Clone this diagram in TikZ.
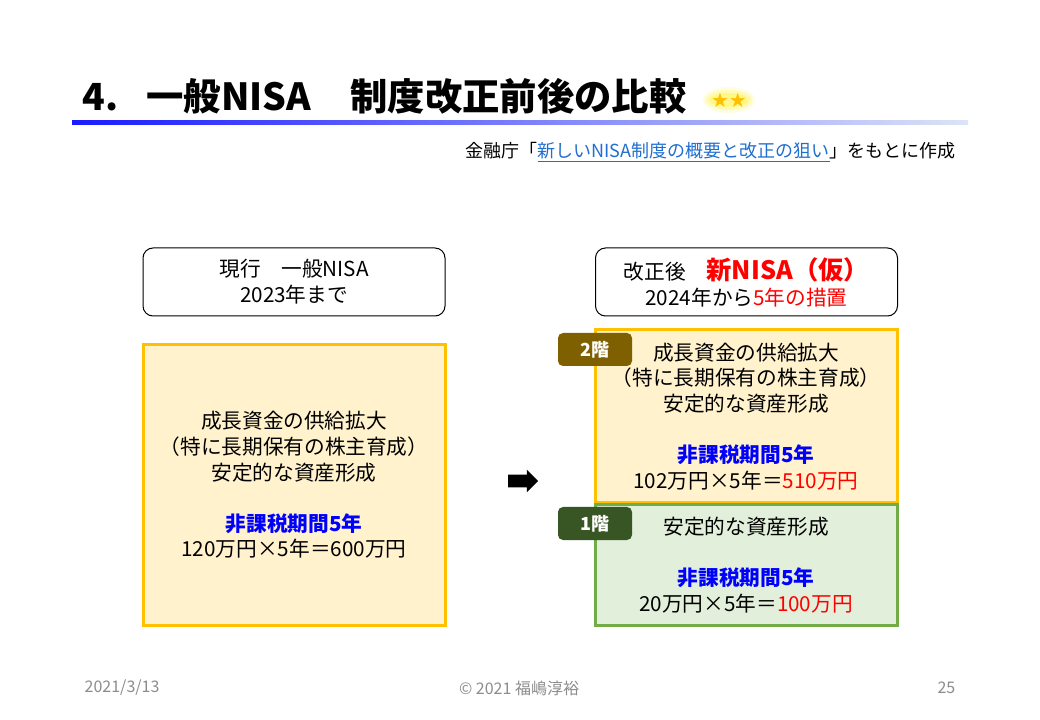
\documentclass[tikz,border=0pt]{standalone}
\usepackage{fontspec}
\setmainfont{Noto Sans CJK JP}
\newfontfamily\symbfont{DejaVu Sans}
\usetikzlibrary{shapes.arrows}

\definecolor{jauneclair}{HTML}{FFF2CC}
\definecolor{jaunebord}{HTML}{FFC000}
\definecolor{vertclair}{HTML}{E2EFDA}
\definecolor{vertbord}{HTML}{70AD47}
\definecolor{brun}{HTML}{7F6000}
\definecolor{vertfonce}{HTML}{375623}
\definecolor{lien}{HTML}{1F6FD0}
\definecolor{grispied}{HTML}{8C8C8C}
\definecolor{bleutitre}{HTML}{1A1AFF}
\definecolor{bleupale}{HTML}{DCE4F6}

\newcommand{\periode}{\textcolor{blue}{\bfseries 非課税期間5年}}

\begin{document}
\begin{tikzpicture}[x=0.75pt,y=-0.75pt,
  entete/.style={draw=black, line width=0.75pt, rounded corners=7.5pt, minimum width=226.5pt, minimum height=51pt, align=center, font=\fontsize{15.5}{19.5}\selectfont},
  cadre/.style={line width=2.25pt, minimum width=226.5pt, align=center, inner sep=0pt, font=\fontsize{15.5}{19.2}\selectfont},
  etage/.style={rounded corners=3.75pt, minimum width=55.5pt, minimum height=24.75pt, text=white, font=\fontsize{13.5}{16}\selectfont\bfseries},
  pied/.style={text=grispied, font=\fontsize{12}{14}\selectfont}]
%fond et cadre de la page
\fill[white] (0,0) rectangle (1040,720);
\useasboundingbox (0,0) rectangle (1040,720);

%titre
\node[anchor=west, font=\fontsize{28}{32}\selectfont\bfseries] (titre) at (78,96) {4.\hspace{0.75em}一般NISA\hspace{1.05em}制度改正前後の比較};
\foreach \r/\o in {13/0.12,10/0.18,7/0.25}
  \fill[yellow, opacity=\o] (729,100) ellipse ({\r+13} and \r);
\node[text=jaunebord, font=\symbfont\fontsize{15}{16}\selectfont, inner sep=0pt] (etoiles) at (729,100) {★★};
\shade[left color=bleutitre, right color=bleupale] (72,121) rectangle (968,125);

\node[anchor=east, font=\fontsize{13.5}{15}\selectfont] (source) at (960,152) {金融庁「\textcolor{lien}{\underline{新しいNISA制度の概要と改正の狙い}}」をもとに作成};

%en-tetes
\node[entete] (actuel) at (294,282) {現行　一般NISA\\2023年まで};
\node[entete] (reforme) at (746.5,282) {改正後　\textcolor{red}{\fontsize{19}{20}\selectfont\bfseries 新NISA（仮）}\\2024年から\textcolor{red}{5年の措置}};

%avant
\node[cadre, draw=jaunebord, fill=jauneclair, minimum height=210pt] (ancien) at (294,485) {成長資金の供給拡大\\（特に長期保有の株主育成）\\安定的な資産形成\\[19.2pt]\periode\\120万円×5年＝600万円};

%apres : 2 etages
\node[cadre, draw=jaunebord, fill=jauneclair, minimum height=129.75pt] (etage2) at (746,416.5) {成長資金の供給拡大\\（特に長期保有の株主育成）\\安定的な資産形成\\[19.2pt]\periode\\102万円×5年＝\textcolor{red}{510万円}};
\node[cadre, draw=vertbord, fill=vertclair, minimum height=90pt] (etage1) at (746,565) {安定的な資産形成\\[19.2pt]\periode\\20万円×5年＝\textcolor{red}{100万円}};
\node[etage, fill=brun] (tag2) at (595,349.5) {2階};
\node[etage, fill=vertfonce] (tag1) at (595,523.5) {1階};

\node[single arrow, fill=black, inner sep=4.5pt, minimum height=22.5pt, single arrow head extend=3.75pt] (fleche) at (520,481) {};

%pied de page
\node[pied, anchor=west] (date) at (80,688) {2021/3/13};
\node[pied] (auteur) at (519,688) {© 2021 福嶋淳裕};
\node[pied, anchor=east] (page) at (960,688) {25};
\end{tikzpicture}
\end{document}
